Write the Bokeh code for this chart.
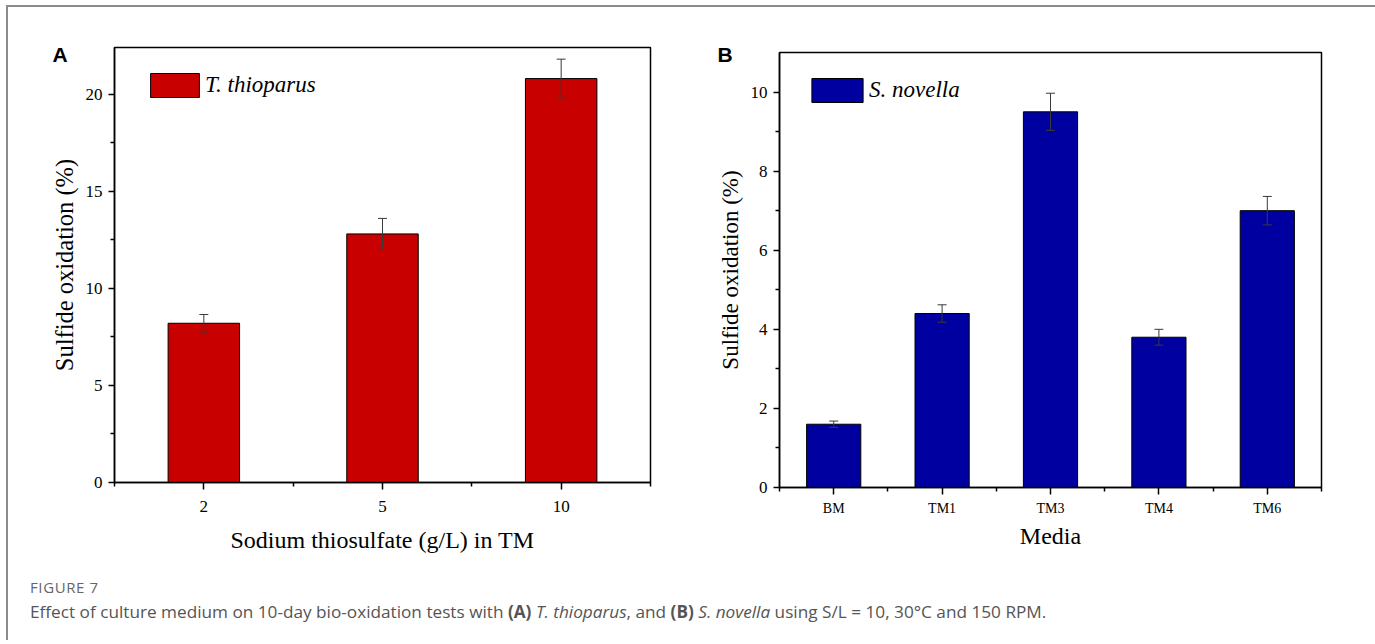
from bokeh.plotting import figure
from bokeh.models import (Range1d, FixedTicker, Whisker, ColumnDataSource, Title,
                          Legend, LegendItem, Div, TeeHead)
from bokeh.layouts import row, column
from bokeh.embed import file_html
from bokeh.resources import INLINE

# ---- data ----
a_categories = ["2", "5", "10"]
a_values = [8.2, 12.8, 20.8]
a_errors = [0.45, 0.8, 1.0]
a_yticks = [0, 5, 10, 15, 20]
a_label = "T. thioparus"

b_categories = ["BM", "TM1", "TM3", "TM4", "TM6"]
b_values = [1.6, 4.4, 9.5, 3.8, 7.0]
b_errors = [0.08, 0.22, 0.47, 0.2, 0.36]
b_yticks = [0, 2, 4, 6, 8, 10]
b_label = "S. novella"

SERIF = "Liberation Serif"


def make_panel(cats, vals, errs, yticks, ymax, minor_y, color, bar_w, legend_text,
               xlabel, width, height, borders, xtick_size, xtick_standoff, xlabel_standoff,
               legend_loc, glyph_wh, letter, letter_offset, letter_standoff, ylabel_size):
    n = len(cats)
    xs = list(range(1, n + 1))
    src = ColumnDataSource(dict(
        x=xs, top=vals,
        upper=[v + e for v, e in zip(vals, errs)],
        lower=[v - e for v, e in zip(vals, errs)],
    ))
    p = figure(width=width, height=height, output_backend="svg", toolbar_location=None,
               x_range=Range1d(0.5, n + 0.5), y_range=Range1d(0, ymax),
               min_border_left=borders[0], min_border_right=borders[1],
               min_border_top=borders[2], min_border_bottom=borders[3])
    p.xgrid.visible = False
    p.ygrid.visible = False
    p.outline_line_color = "black"
    p.outline_line_width = 1.5
    p.outline_line_alpha = 1
    p.background_fill_color = "white"
    p.border_fill_color = "white"

    bars = p.vbar(x="x", top="top", width=bar_w, source=src, fill_color=color,
                  line_color="black", line_width=1)
    w = Whisker(source=src, base="x", upper="upper", lower="lower",
                line_color="#3a3a3a", line_width=1, level="overlay",
                upper_head=TeeHead(size=9, line_color="#3a3a3a", line_width=1),
                lower_head=TeeHead(size=9, line_color="#3a3a3a", line_width=1))
    p.add_layout(w)

    # x axis
    xa = p.xaxis[0]
    xa.ticker = FixedTicker(ticks=xs, minor_ticks=[i + 0.5 for i in range(0, n + 1)])
    xa.major_label_overrides = {i: c for i, c in zip(xs, cats)}
    xa.axis_line_width = 1.5
    xa.major_tick_line_width = 1.5
    xa.minor_tick_line_width = 1.5
    xa.major_tick_in = 0
    xa.major_tick_out = 7
    xa.minor_tick_in = 0
    xa.minor_tick_out = 4
    xa.major_label_text_font = SERIF
    xa.major_label_text_font_size = xtick_size
    xa.major_label_text_color = "black"
    xa.major_label_standoff = xtick_standoff
    xa.axis_label = xlabel
    xa.axis_label_text_font = SERIF
    xa.axis_label_text_font_style = "normal"
    xa.axis_label_text_font_size = "24px"
    xa.axis_label_text_color = "black"
    xa.axis_label_standoff = xlabel_standoff

    # y axis
    ya = p.yaxis[0]
    ya.ticker = FixedTicker(ticks=yticks, minor_ticks=minor_y)
    ya.axis_line_width = 1.5
    ya.major_tick_line_width = 1.5
    ya.minor_tick_line_width = 1.5
    ya.major_tick_in = 0
    ya.major_tick_out = 6
    ya.minor_tick_in = 0
    ya.minor_tick_out = 4
    ya.major_label_text_font = SERIF
    ya.major_label_text_font_size = "17px"
    ya.major_label_text_color = "black"
    ya.major_label_standoff = 6
    ya.axis_label = "Sulfide oxidation (%)"
    ya.axis_label_text_font = SERIF
    ya.axis_label_text_font_style = "normal"
    ya.axis_label_text_font_size = ylabel_size
    ya.axis_label_text_color = "black"
    ya.axis_label_standoff = 5

    legend = Legend(items=[LegendItem(label=legend_text, renderers=[bars])],
                    location=legend_loc, orientation="vertical",
                    glyph_width=glyph_wh[0], glyph_height=glyph_wh[1], label_height=glyph_wh[1],
                    label_standoff=0, padding=0, margin=0, spacing=0,
                    border_line_alpha=0, background_fill_alpha=0,
                    label_text_font=SERIF, label_text_font_style="italic",
                    label_text_font_size="23px", label_text_color="black")
    p.add_layout(legend)

    p.add_layout(Title(text=letter, align="left", offset=letter_offset,
                       standoff=letter_standoff,
                       text_font="Liberation Sans", text_font_style="bold",
                       text_font_size="21px", text_color="black"), "above")
    return p


pA = make_panel(a_categories, a_values, a_errors, a_yticks, 22.4, [2.5, 7.5, 12.5, 17.5],
                "#C80000", 0.4, a_label, "Sodium thiosulfate (g/L) in TM",
                674, 558, (106, 32, 40, 83), "17px", 11, 12, (30, 382), (61, 30),
                "A", -62, -37, "24.5px")
pB = make_panel(b_categories, b_values, b_errors, b_yticks, 11, [1, 3, 5, 7, 9],
                "#0000A0", 0.5, b_label, "Media",
                685, 558, (97, 46, 40, 83), "14px", 6, 4, (26, 382), (64, 30),
                "B", -62, -27, "23px")
pB.styles = {"margin-top": "5px"}

caption = Div(text=(
    '<div style="font-family:\'Open Sans\';color:#555;padding-left:17px;padding-top:3px;">'
    '<div style="font-size:15px;line-height:19px;color:#666;letter-spacing:0.6px;">FIGURE 7</div>'
    '<div style="font-size:17.2px;line-height:23px;margin-top:3px;">Effect of culture medium on 10-day '
    'bio-oxidation tests with <b>(A)</b> <i>T. thioparus</i>, and <b>(B)</b> '
    '<i>S. novella</i> using S/L = 10, 30°C and 150 RPM.</div></div>'),
    width=1359, height=60)

layout = column(row(pA, pB), caption,
                styles={"margin-left": "6px", "margin-top": "5px",
                        "border-left": "2px solid #8c8c8c", "border-top": "2px solid #8c8c8c",
                        "border-right": "2px solid #8c8c8c"})

open("out.html", "w").write(file_html(layout, INLINE))
